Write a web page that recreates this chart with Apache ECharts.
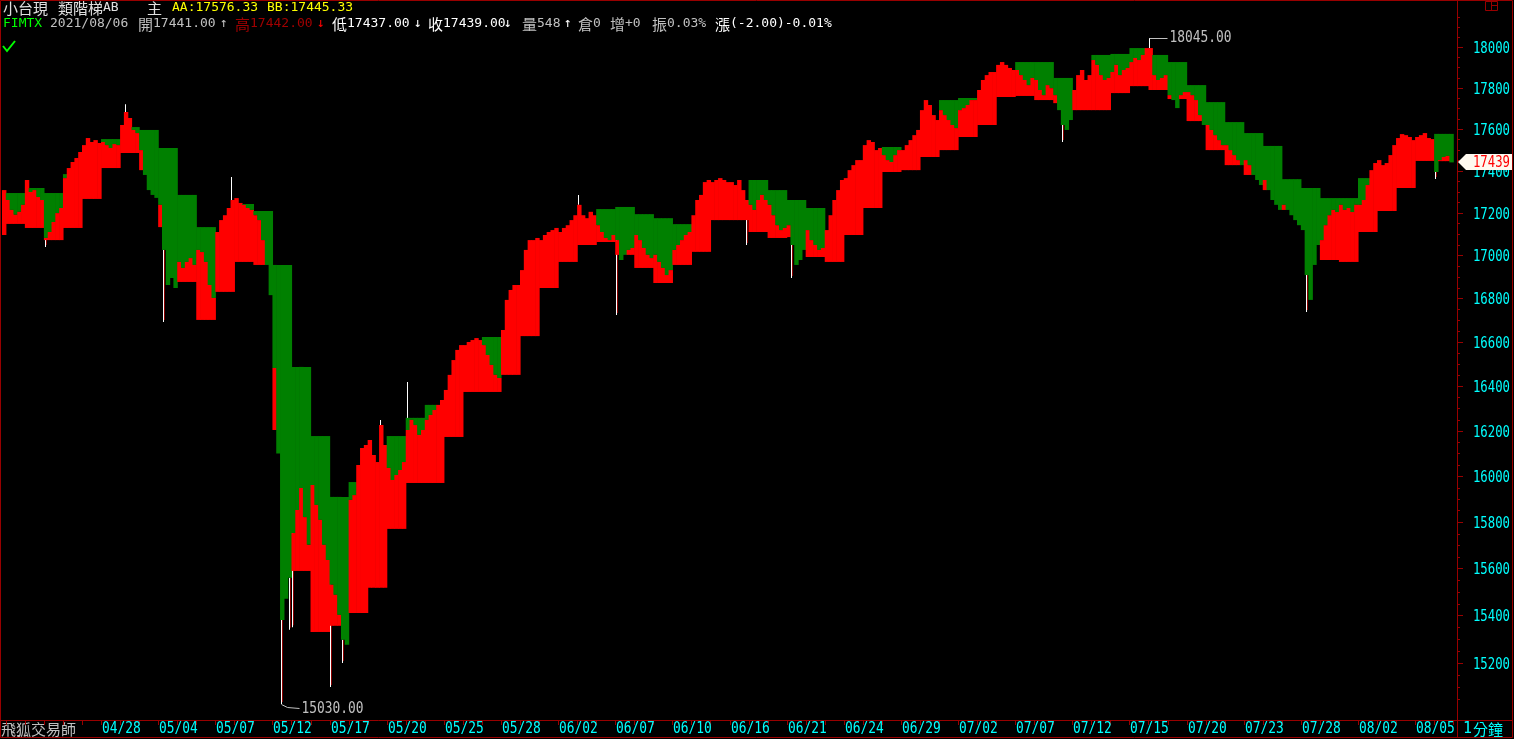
<!DOCTYPE html>
<html><head><meta charset="utf-8">
<script src="https://cdn.jsdelivr.net/npm/echarts@6/dist/echarts.min.js"></script>
<style>html,body{margin:0;padding:0;background:#000;overflow:hidden}#c{width:1514px;height:739px}</style>
</head><body><div id="c"></div>
<script>
// ---- data (one close per ~3.8px slot; 5 slots per daily stair step) ----
const closes = [
17307,
17260,17213,17190,17204,17237,
17355,17298,17307,17274,17260,
17081,17109,17156,17198,17222,
17364,17412,17441,17460,17489,
17522,17556,17537,17546,17532,
17537,17522,17508,17527,17522,
17619,17682,17653,17595,17580,
17498,17379,17307,17284,17270,
17237,17025,16862,16894,16848,
16969,16941,16969,16987,16955,
17025,17015,16969,16862,16802,
17109,17165,17188,17222,17260,
17269,17246,17237,17222,17213,
17188,17165,17071,16955,16815,
16482,16100,15380,15470,15560,
15752,15852,15948,15821,15701,
15961,15874,15809,15701,15636,
15530,15487,15402,15297,15276,
15896,15917,16049,16124,16137,
16160,16093,16062,16226,16137,
16036,15983,16005,16027,16062,
16204,16249,16226,16182,16204,
16249,16271,16293,16316,16338,
16383,16451,16518,16564,16586,
16586,16600,16609,16618,16609,
16586,16541,16496,16451,16437,
16655,16793,16839,16862,16862,
16931,17025,17071,17071,17081,
17071,17095,17109,17118,17128,
17109,17128,17141,17165,17188,
17237,17188,17174,17204,17188,
17141,17109,17081,17071,17095,
17071,16978,17002,17025,17034,
17095,17071,17034,17002,16987,
17002,16969,16941,16908,16931,
17025,17048,17071,17095,17109,
17188,17260,17284,17345,17355,
17345,17355,17364,17355,17345,
17345,17331,17355,17307,17260,
17237,17213,17260,17284,17260,
17237,17188,17141,17118,17128,
17141,17048,16955,16978,17025,
17118,17071,17048,17025,17034,
17118,17188,17260,17307,17355,
17364,17402,17426,17450,17450,
17522,17546,17537,17498,17508,
17474,17450,17441,17474,17498,
17498,17522,17546,17570,17595,
17691,17740,17716,17667,17643,
17691,17667,17643,17619,17604,
17691,17701,17716,17740,17740,
17789,17838,17862,17877,17877,
17912,17926,17912,17897,17887,
17887,17862,17838,17813,17848,
17838,17789,17764,17813,17798,
17764,17691,17619,17595,17643,
17789,17862,17887,17838,17862,
17936,17912,17862,17838,17848,
17877,17912,17862,17887,17897,
17926,17946,17936,17961,17995,
17995,17862,17838,17848,17862,
17764,17740,17701,17764,17779,
17779,17764,17740,17667,17619,
17619,17595,17570,17546,17522,
17522,17498,17474,17450,17426,
17450,17426,17379,17355,17331,
17355,17307,17260,17237,17213,
17237,17213,17188,17165,17141,
17118,16908,16793,16955,17048,
17071,17141,17188,17213,17203,
17237,17213,17222,17203,17237,
17237,17260,17331,17402,17436,
17450,17426,17436,17474,17522,
17556,17575,17570,17561,17546,
17561,17570,17580,17556,17551,
17393,17450,17465,17470,17439,
null
];
// upper stair (AA) per day: first = partial day before the first full one
const stepAA = [null,
17293,17317,17293,17383,null,17551,17609,17595,17508,17284,
17132,null,17241,17208,16955,16487,16177,15909,15974,null,
16177,16258,16316,null,null,16623,null,null,null,null,
null,17217,17227,17193,17174,17146,null,null,null,17355,
17307,17260,17222,null,null,null,17513,null,null,17740,
17750,null,null,17926,17926,17848,null,17961,17966,17995,
17961,17926,17813,17730,17633,17580,17518,17359,17317,17269,
17269,17364,null,null,null,17576];
// lower stair (BB) per day
const stepBB = [17095,
17147,17128,17071,17128,17265,17412,17484,17402,17132,16876,
16701,16830,16969,16955,16204,15589,15330,15356,15410,15517,
15770,15970,15970,16173,16374,16374,16451,16627,16848,16969,
17048,17062,17002,16941,16871,16955,17016,17165,17165,17109,
17081,17085,16992,16969,17095,17222,17393,17402,17465,17498,
17561,17619,17755,17760,17740,17725,17691,17691,17774,17808,
17789,17745,17638,17498,17426,17379,17307,17213,null,16978,
16969,17109,17208,17317,17446,17445];
const wickHigh = [[32,17720],[60,17369],[99,16249],[106,16419],[151,17284],[301,18045]];
const wickLow = [[11,17039],[42,16691],[73,15030],[75,15339],[76,15350],[86,15100],[89,15200],[161,16724],[195,17048],[207,16894],[278,17537],[342,16737],[376,17360]];
const yTicks = [15200,15400,15600,15800,16000,16200,16400,16600,16800,17000,17200,17400,17600,17800,18000];
const dateLabels = ['04/28','05/04','05/07','05/12','05/17','05/20','05/25','05/28','06/02','06/07','06/10','06/16','06/21','06/24','06/29','07/02','07/07','07/12','07/15','07/20','07/23','07/28','08/02','08/05'];
const dateIdx = [26,41,56,71,86,101,116,131,146,161,176,191,206,221,236,251,266,281,296,311,326,341,356,371];
const lastPrice = 17439;
const highMark = [301, 18045];
const lowMark = [73, 15030];
const AAtxt = 'AA:17576.33', BBtxt = 'BB:17445.33';

// ---- build ----
const stepOf = i => i === 0 ? 0 : Math.min(stepAA.length - 1, 1 + Math.floor((i - 1) / 5));
const hiMap = new Map(wickHigh), loMap = new Map(wickLow);
const rows = closes.map((c, i) => [i, c, stepAA[stepOf(i)], stepBB[stepOf(i)], hiMap.has(i) ? hiMap.get(i) : null, loMap.has(i) ? loMap.get(i) : null]);
const minorTicks = [];
for (let v = 15000; v <= 18200; v += 50) if (v % 200 !== 0) minorTicks.push(v);
const dayStarts = [];
for (let i = 1; i < closes.length; i += 5) dayStarts.push(i);

const RED = '#ff0000', GREEN = '#008000', FRAME = '#990000', CYAN = '#00ffff';
const MONO = '"DejaVu Sans Mono", monospace';
const CJK = '"Noto Sans CJK TC", sans-serif';

function ok(v) { return v !== null && v !== undefined && !isNaN(v); }

function renderBand(params, api) {
  const i = api.value(0), c = api.value(1);
  if (!ok(c)) return;
  const a = api.value(2), b = api.value(3), h = api.value(4), l = api.value(5);
  const pc = api.coord([i, c]);
  const w = api.size([1, 0])[0];
  const x = pc[0] - w / 2;
  const ch = [];
  if (ok(h)) { const ph = api.coord([i, h]); ch.push({type:'rect', shape:{x: Math.round(pc[0]) - 1, y: ph[1], width: 1, height: pc[1] - ph[1]}, style:{fill:'#ffffff'}}); }
  if (ok(l)) { const pl = api.coord([i, l]);
    ch.push({type:'rect', shape:{x: Math.round(pc[0]) - 1, y: pc[1], width: 1, height: pl[1] - pc[1]}, style:{fill:'#ffffff'}});
    ch.push({type:'rect', shape:{x: Math.round(pc[0]), y: pc[1], width: 1, height: pl[1] - pc[1] - 2}, style:{fill:'#8b0000'}}); }
  if (ok(a) && c < a) { const pa = api.coord([i, a]); ch.push({type:'rect', shape:{x: x, y: pa[1], width: w + 0.6, height: pc[1] - pa[1]}, style:{fill: GREEN}}); }
  if (ok(b) && c > b) { const pb = api.coord([i, b]); ch.push({type:'rect', shape:{x: x, y: pc[1], width: w + 0.6, height: pb[1] - pc[1]}, style:{fill: RED}}); }
  return {type:'group', children: ch};
}

function narrowText(text, x, y, fill, size, sx, align) {
  return {type:'text', x: x, y: y, scaleX: sx, style:{text: text, x: 0, y: 0, align: align || 'left', verticalAlign:'middle', fill: fill, font: size + 'px ' + MONO}};
}
function renderYLabel(params, api) {
  const v = api.value(1);
  const y = Math.round(api.coord([0, v])[1]) + 0.5;
  const xr = params.coordSys.x + params.coordSys.width;
  return {type:'group', children:[
    {type:'line', shape:{x1: xr, y1: y, x2: xr + 6, y2: y}, style:{stroke: FRAME, lineWidth: 1}},
    narrowText(String(v), 1510, y + 1, CYAN, 16, 0.77, 'right')
  ]};
}
function renderMinor(params, api) {
  const y = Math.round(api.coord([0, api.value(1)])[1]) + 0.5;
  const xr = params.coordSys.x + params.coordSys.width;
  return {type:'line', shape:{x1: xr, y1: y, x2: xr + 3, y2: y}, style:{stroke: FRAME, lineWidth: 1}};
}
function renderDayTick(params, api) {
  const p = api.coord([api.value(0), 17000]);
  const w = api.size([1, 0])[0];
  const x = Math.round(p[0] - w / 2) + 0.5;
  const yb = params.coordSys.y + params.coordSys.height;
  return {type:'line', shape:{x1: x, y1: yb, x2: x, y2: yb + 5}, style:{stroke: FRAME, lineWidth: 1}};
}
function renderXLabel(params, api) {
  const p = api.coord([api.value(0), 17000]);
  const w = api.size([1, 0])[0];
  const x = Math.round(p[0] - w / 2) + 1;
  return narrowText(dateLabels[params.dataIndex], x, 729, CYAN, 15, 0.86, 'left');
}
function renderTag(params, api) {
  const y = Math.round(api.coord([0, api.value(1)])[1]);
  const xr = params.coordSys.x + params.coordSys.width;
  return {type:'group', children:[
    {type:'polygon', shape:{points:[[xr + 1, y], [xr + 9, y - 8], [1512, y - 8], [1512, y + 8], [xr + 9, y + 8]]}, style:{fill:'#fffaf0'}},
    narrowText(String(api.value(1)), 1510, y + 1, RED, 16, 0.77, 'right')
  ]};
}
function renderMarks(params, api) {
  const p = api.coord([api.value(0), api.value(1)]);
  const x = Math.round(p[0]) - 0.5, y = Math.round(p[1]) + 0.5;
  const isLow = params.dataIndex === 1;
  const pts = isLow ? [[x, y], [x + 6, y + 3], [x + 18, y + 4]] : [[x, y], [x + 18, y]];
  const ty = isLow ? y + 5 : y;
  return {type:'group', children:[
    {type:'polyline', shape:{points: pts}, style:{stroke:'#c0c0c0', lineWidth:1, fill: null}},
    narrowText(api.value(1).toFixed(2), x + 20, ty, '#c0c0c0', 15, 0.86, 'left')
  ]};
}

const chart = echarts.init(document.getElementById('c'), null, {renderer:'canvas'});

function t(text, x, y, fill, font) { return {type:'text', style:{text, x, y, fill, font, verticalAlign:'middle'}}; }
const L = '13px ' + MONO, C = '15px ' + CJK;
const gray = '#c0c0c0', white = '#ffffff';

const graphics = [
  {type:'rect', shape:{x:0.5, y:0.5, width:1512, height:737}, style:{stroke: FRAME, fill: null, lineWidth: 1}},
  {type:'line', shape:{x1:0, y1:720.5, x2:1513, y2:720.5}, style:{stroke: FRAME, lineWidth: 1}},
  {type:'line', shape:{x1:1457.5, y1:0, x2:1457.5, y2:738}, style:{stroke: FRAME, lineWidth: 1}},
  {type:'rect', shape:{x:1485.5, y:1.5, width:12, height:9}, style:{stroke: FRAME, fill: null, lineWidth: 1}},
  {type:'line', shape:{x1:1491.5, y1:1.5, x2:1491.5, y2:10.5}, style:{stroke: FRAME, lineWidth: 1}},
  {type:'line', shape:{x1:1491.5, y1:5.5, x2:1497.5, y2:5.5}, style:{stroke: FRAME, lineWidth: 1}},
  t('小台現', 3, 8, '#e0e0e0', C),
  t('類階梯', 58, 8, '#e0e0e0', C), t('AB', 103, 8, '#e0e0e0', L),
  t('主', 147, 8, '#e0e0e0', C),
  t(AAtxt, 172, 8, '#ffff00', L),
  t(BBtxt, 267, 8, '#ffff00', L),
  t('FIMTX', 3, 24, '#00ff00', L),
  t('2021/08/06', 50, 24, gray, L),
  t('開', 138, 24, gray, C), t('17441.00', 153, 24, gray, L), t('↑', 220, 24, gray, L),
  t('高', 235, 24, '#a00000', C), t('17442.00', 250, 24, '#a00000', L), t('↓', 317, 24, RED, L),
  t('低', 332, 24, white, C), t('17437.00', 347, 24, white, L), t('↓', 414, 24, white, L),
  t('收', 428, 24, white, C), t('17439.00', 443, 24, white, L), t('↓', 504, 24, white, L),
  t('量', 522, 24, gray, C), t('548', 537, 24, gray, L), t('↑', 564, 24, white, L),
  t('倉', 578, 24, gray, C), t('0', 593, 24, gray, L),
  t('增', 610, 24, gray, C), t('+0', 625, 24, gray, L),
  t('振', 652, 24, gray, C), t('0.03%', 667, 24, gray, L),
  t('漲', 715, 24, white, C), t('(-2.00)-0.01%', 730, 24, white, L),
  {type:'polyline', shape:{points:[[3,46],[7,51],[15,41]]}, style:{stroke:'#00ff00', lineWidth:2, fill:null}},
  t('飛狐交易師', 1, 729, gray, C),
  t('1', 1463, 729, CYAN, '15px ' + MONO), t('分鐘', 1473, 729, CYAN, C)
];

chart.setOption({
  backgroundColor: '#000',
  animation: false,
  grid: {left: 2, right: 57, top: 2, bottom: 19},
  xAxis: {
    type: 'category', data: closes.map((_, i) => String(i)), boundaryGap: true,
    axisLine: {show: false}, axisTick: {show: false}, axisLabel: {show: false}, splitLine: {show: false}
  },
  yAxis: {
    type: 'log', logBase: 10, min: 14964, max: 18224, position: 'right',
    axisLine: {show: false}, axisTick: {show: false}, axisLabel: {show: false}, splitLine: {show: false}, minorTick: {show: false}
  },
  series: [
    {type:'custom', name:'band', renderItem: renderBand, data: rows, encode:{x:0, y:1}, clip: true, silent: true},
    {type:'custom', name:'minor', renderItem: renderMinor, data: minorTicks.map(v => [0, v]), encode:{x:0, y:1}, clip: false, silent: true},
    {type:'custom', name:'ylab', renderItem: renderYLabel, data: yTicks.map(v => [0, v]), encode:{x:0, y:1}, clip: false, silent: true},
    {type:'custom', name:'dayTicks', renderItem: renderDayTick, data: dayStarts.map(i => [i, 17000]), encode:{x:0, y:1}, clip: false, silent: true},
    {type:'custom', name:'xlab', renderItem: renderXLabel, data: dateIdx.map(i => [i, 17000]), encode:{x:0, y:1}, clip: false, silent: true},
    {type:'custom', name:'marks', renderItem: renderMarks, data: [highMark, lowMark], encode:{x:0, y:1}, clip: false, silent: true, z: 5},
    {type:'custom', name:'tag', renderItem: renderTag, data: [[0, lastPrice]], encode:{x:0, y:1}, clip: false, silent: true, z: 6}
  ],
  graphic: graphics
});
</script>
</body></html>
